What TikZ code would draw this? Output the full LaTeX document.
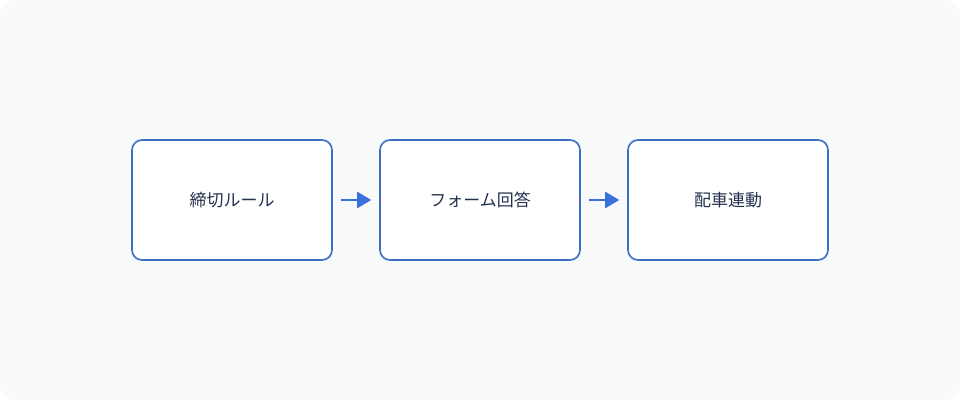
\documentclass[tikz,border=0pt]{standalone}
\usepackage{fontspec}
\newfontfamily\cjk{Noto Sans CJK JP}
\usetikzlibrary{positioning,arrows.meta}
\definecolor{bgfill}{HTML}{F8FAFC}
\definecolor{boxline}{HTML}{3C6EC8}
\definecolor{arrowblue}{HTML}{3B70DB}
\definecolor{textdark}{HTML}{23324F}
\begin{document}
\begin{tikzpicture}[x=1pt,y=1pt,node distance=46.4pt,
    stagebox/.style={draw=boxline,line width=1.6pt,fill=white,rounded corners=10pt,
      minimum width=200pt,minimum height=120pt,font=\cjk\fontsize{17}{19}\selectfont,text=textdark},
    flow/.style={draw=arrowblue,line width=2.6pt,-{Triangle[length=14pt,width=16pt]},shorten >=8pt,shorten <=8pt}]
    \fill[bgfill,rounded corners=16pt] (0,0) rectangle (960,400);
    \node[stagebox] (rule) at (232,200) {締切ルール};
    \node[stagebox] (form) [right=of rule] {フォーム回答};
    \node[stagebox] (car)  [right=of form] {配車連動};
    \draw[flow] (rule) -- (form);
    \draw[flow] (form) -- (car);
\end{tikzpicture}
\end{document}
